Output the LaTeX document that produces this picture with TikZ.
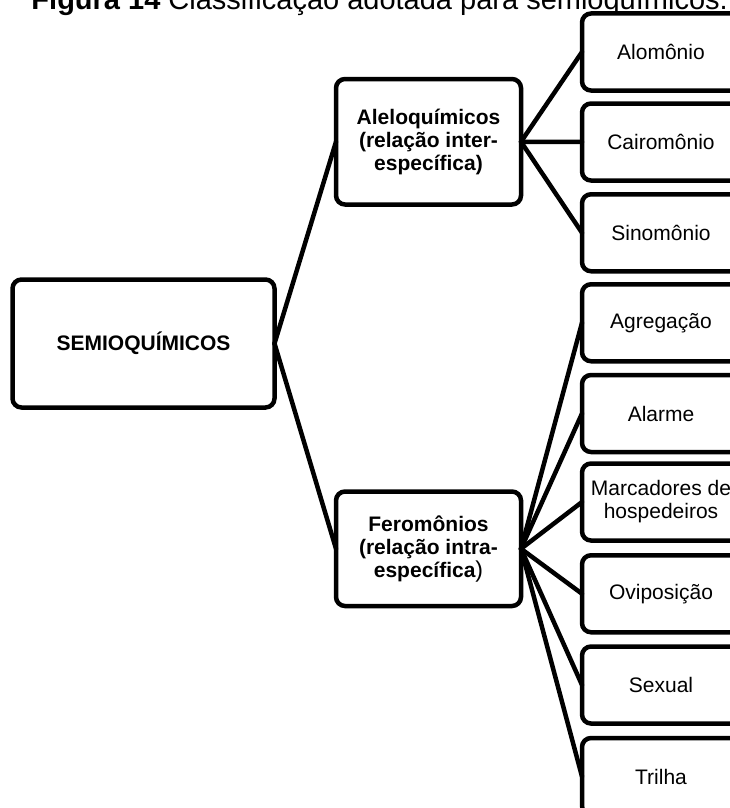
\documentclass[tikz,border=0pt]{standalone}
\usepackage{fontspec}
\setmainfont{Liberation Sans}
\begin{document}
\begin{tikzpicture}[x=1pt,y=-1pt,
  box/.style={draw=black, line width=4.5pt, rounded corners=9pt, inner sep=0pt, outer sep=0pt,
    align=center, font=\fontsize{21}{23}\selectfont, fill=white},
  head/.style={box, font=\fontsize{21}{23}\selectfont\bfseries},
  leaf/.style={box, minimum width=158pt, minimum height=77pt},
  link/.style={line width=4.5pt, line cap=round, line join=round}]
\fill[white] (0,0) rectangle (730,808);
\useasboundingbox (0,0) rectangle (730,808);
% title
\node[anchor=base east, inner sep=0pt, font=\fontsize{29}{34}\selectfont] (title) at (728,9.5)
  {\textbf{Figura 14} Classificação adotada para semioquímicos.};
% connectors first (below boxes)
\coordinate (sE) at (274.5,343.5);
\coordinate (aW) at (336,141.75);
\coordinate (aE) at (521,141.75);
\coordinate (fW) at (336,548.75);
\coordinate (fE) at (521,548.75);
% boxes
\node[head, minimum width=262pt, minimum height=128pt] (semio) at (143.5,343.5) {SEMIOQUÍMICOS};
\node[head, minimum width=185pt, minimum height=125.5pt] (alelo) at (428.5,141.75)
  {Aleloquímicos\\(relação inter-\\específica)};
\node[head, minimum width=185pt, minimum height=114.5pt] (fero) at (428.5,548.75)
  {Feromônios\\(relação intra-\\específica{\mdseries\fontsize{23}{23}\selectfont)}};
\node[leaf] (alom) at (661,52) {Alomônio};
\node[leaf] (cair) at (661,142) {Cairomônio};
\node[leaf] (sino) at (661,232.75) {Sinomônio};
\node[leaf] (agre) at (661,322.75) {Agregação};
\node[leaf] (alar) at (661,413.5) {Alarme};
\node[leaf] (marc) at (661,502) {Marcadores de\\hospedeiros};
\node[leaf] (ovip) at (661,593.75) {Oviposição};
\node[leaf] (sexu) at (661,685) {Sexual};
\node[leaf] (tril) at (661,776.5) {Trilha};
% connectors
\draw[link] (semio.east) -- (alelo.west);
\draw[link] (semio.east) -- (fero.west);
\foreach \t in {alom,cair,sino}{\draw[link] (alelo.east) -- (\t.west);}
\foreach \t in {agre,alar,marc,ovip,sexu,tril}{\draw[link] (fero.east) -- (\t.west);}
\end{tikzpicture}
\end{document}
